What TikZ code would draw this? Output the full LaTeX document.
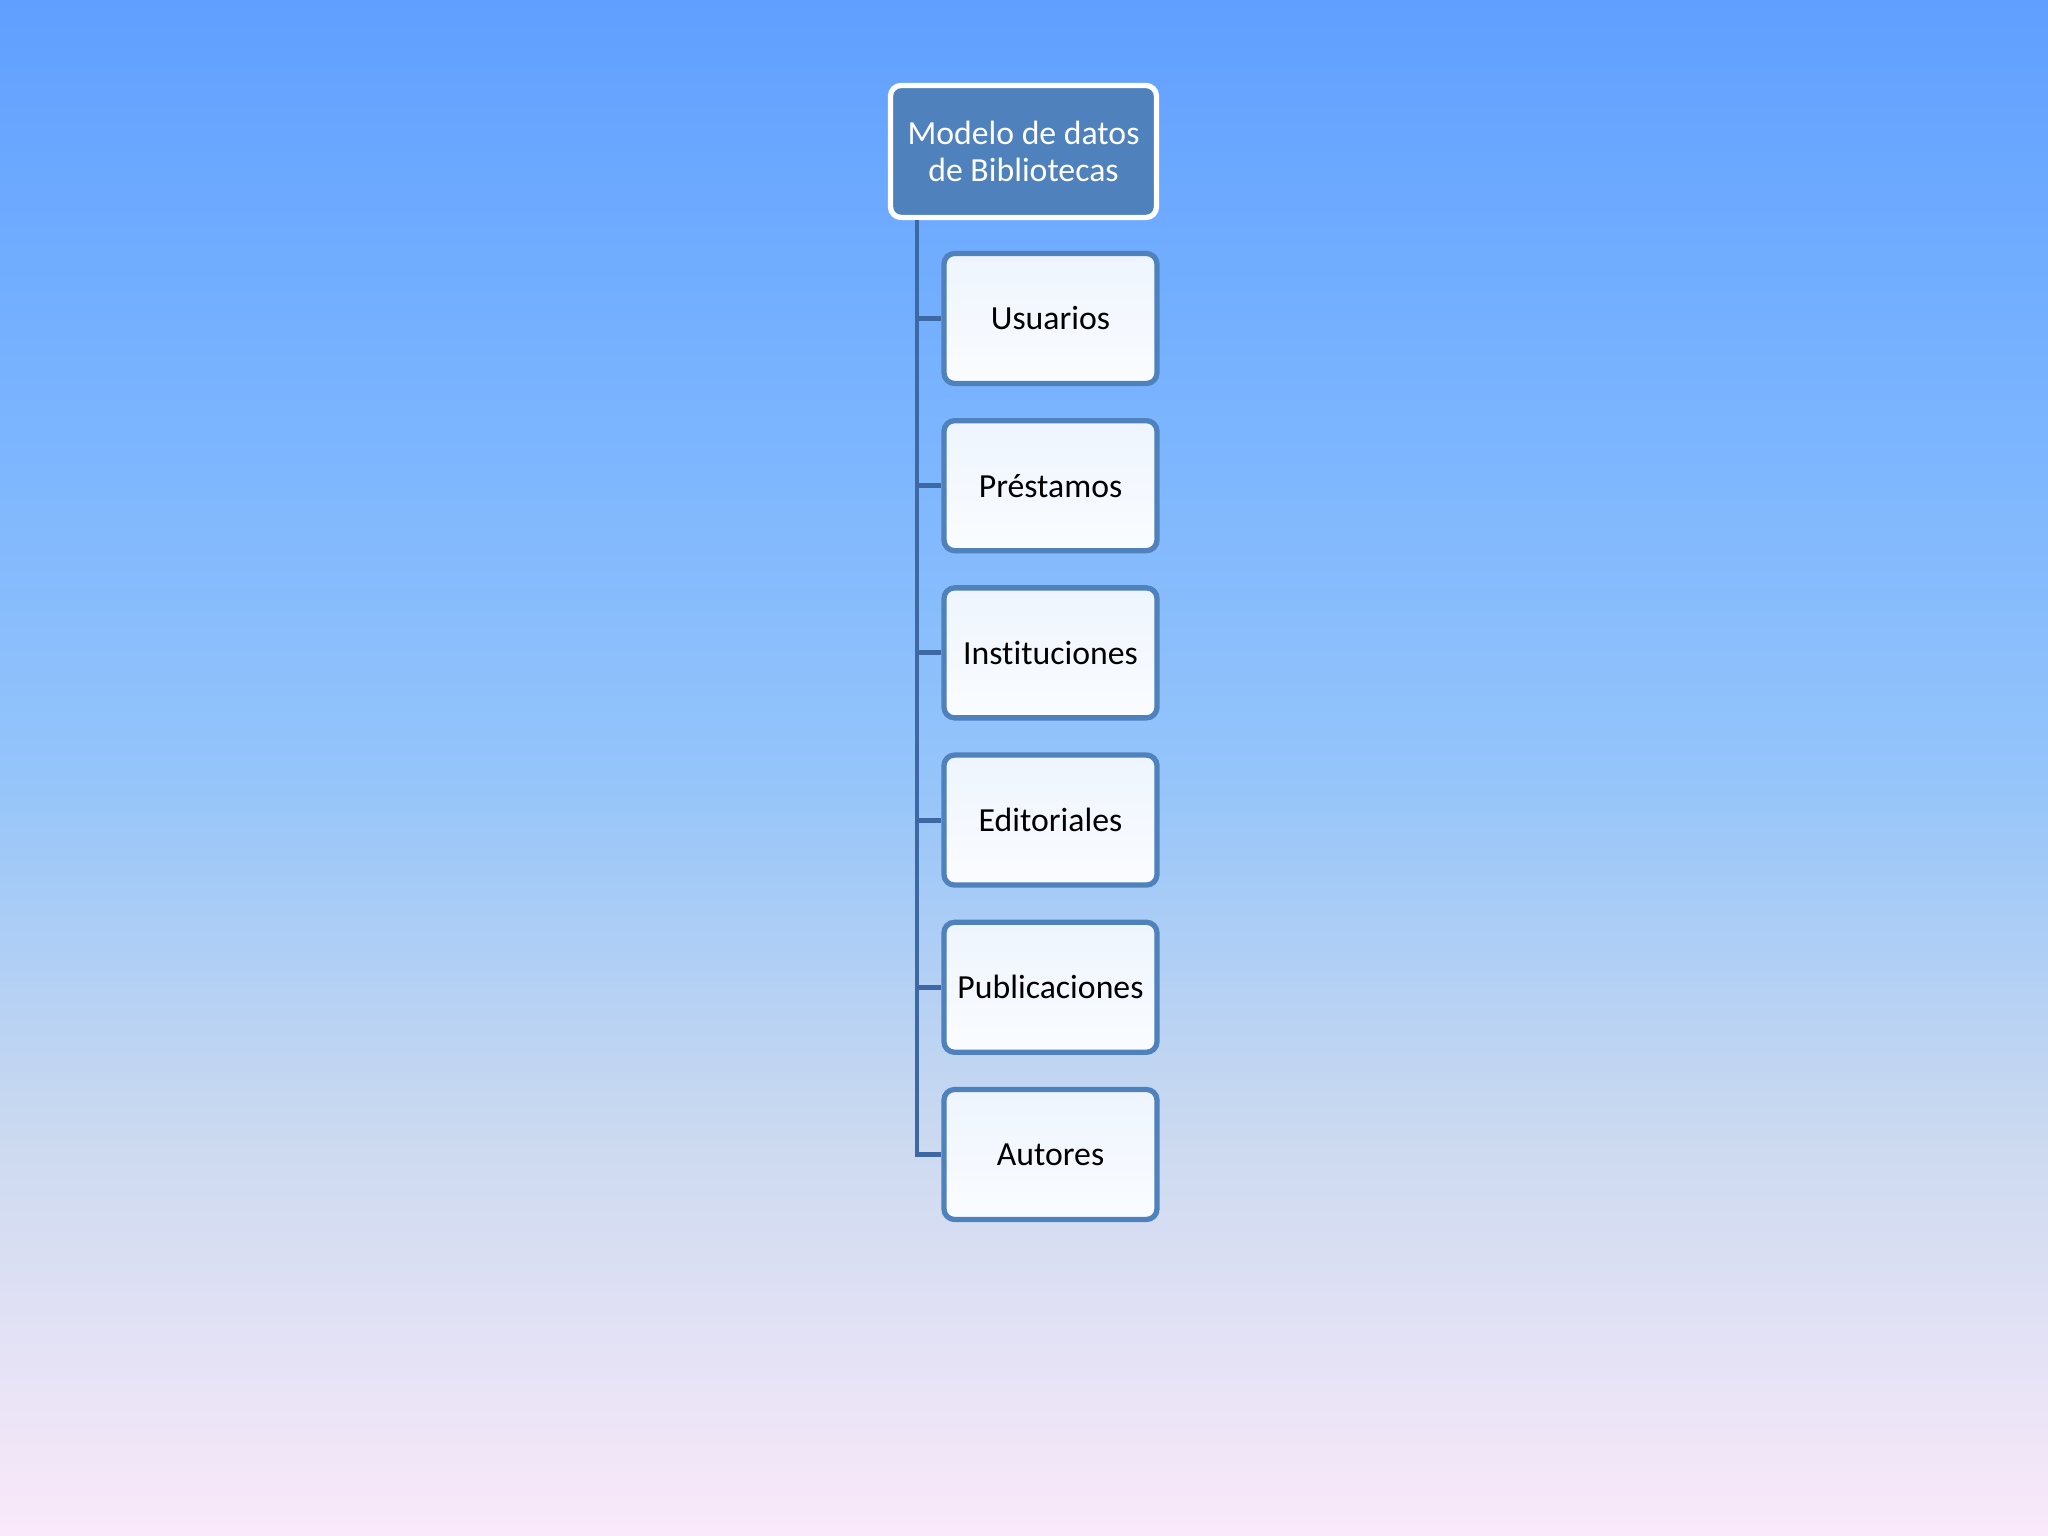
\documentclass[tikz,border=0pt]{standalone}
\usepackage{fontspec}
\setmainfont[Ligatures={NoCommon}]{Carlito}
\usepackage{tikz}
\definecolor{accBlue}{RGB}{79,129,189}
\definecolor{lineBlue}{RGB}{62,104,164}
\definecolor{boxTop}{RGB}{238,245,254}
\definecolor{boxBottom}{RGB}{250,252,255}
\usetikzlibrary{shapes, backgrounds, positioning}
\pgfdeclareverticalshading{slideBg}{100bp}{%
  rgb(0bp)=(0.980,0.914,0.980); rgb(25bp)=(0.980,0.914,0.980);
  rgb(37.6bp)=(0.804,0.855,0.941); rgb(49.9bp)=(0.580,0.769,0.980);
  rgb(61.7bp)=(0.478,0.706,1.0); rgb(75bp)=(0.376,0.624,1.0);
  rgb(100bp)=(0.376,0.624,1.0)}
\tikzstyle{rootbox} = [draw=white, line width=1.5pt, fill=accBlue, rounded corners=3pt, minimum width=2.66cm, minimum height=1.32cm, text=white, align=center, font=\fontsize{9.6}{10.5}\selectfont]
\tikzstyle{itembox} = [draw=accBlue, line width=1.5pt, top color=boxTop, bottom color=boxBottom, rounded corners=3pt, minimum width=2.13cm, minimum height=1.30cm, font=\fontsize{9.6}{11}\selectfont]
\tikzstyle{branch} = [draw=lineBlue, line width=1.4pt]

\begin{document}
\begin{tikzpicture}[node distance=1.672cm]
        % background and page size
        \shade[shading=slideBg] (0,0) rectangle (20.48,15.36);
        \useasboundingbox (0,0) rectangle (20.48,15.36);

        % We start by placing the blocks
        \node [rootbox] (modelo) at (10.235,13.845) {Modelo de datos\\de Bibliotecas};
        \node [itembox] (usuarios) at (10.505,12.175) {Usuarios};
        \node [itembox, below of=usuarios] (prestamos) {Préstamos};
        \node [itembox, below of=prestamos] (instituciones) {Instituciones};
        \node [itembox, below of=instituciones] (editoriales) {Editoriales};
        \node [itembox, below of=editoriales] (publicaciones) {Publicaciones};
        \node [itembox, below of=publicaciones] (autores) {Autores};
        \coordinate (trunk) at ([xshift=-1.065cm]modelo.south);

        % Once the nodes are placed, connecting them is easy.
        \draw [branch] (trunk) |- (autores.west);
        \foreach \child in {usuarios, prestamos, instituciones, editoriales, publicaciones}
            \draw [branch] (trunk |- \child.west) -- (\child.west);
    \end{tikzpicture}
\end{document}
